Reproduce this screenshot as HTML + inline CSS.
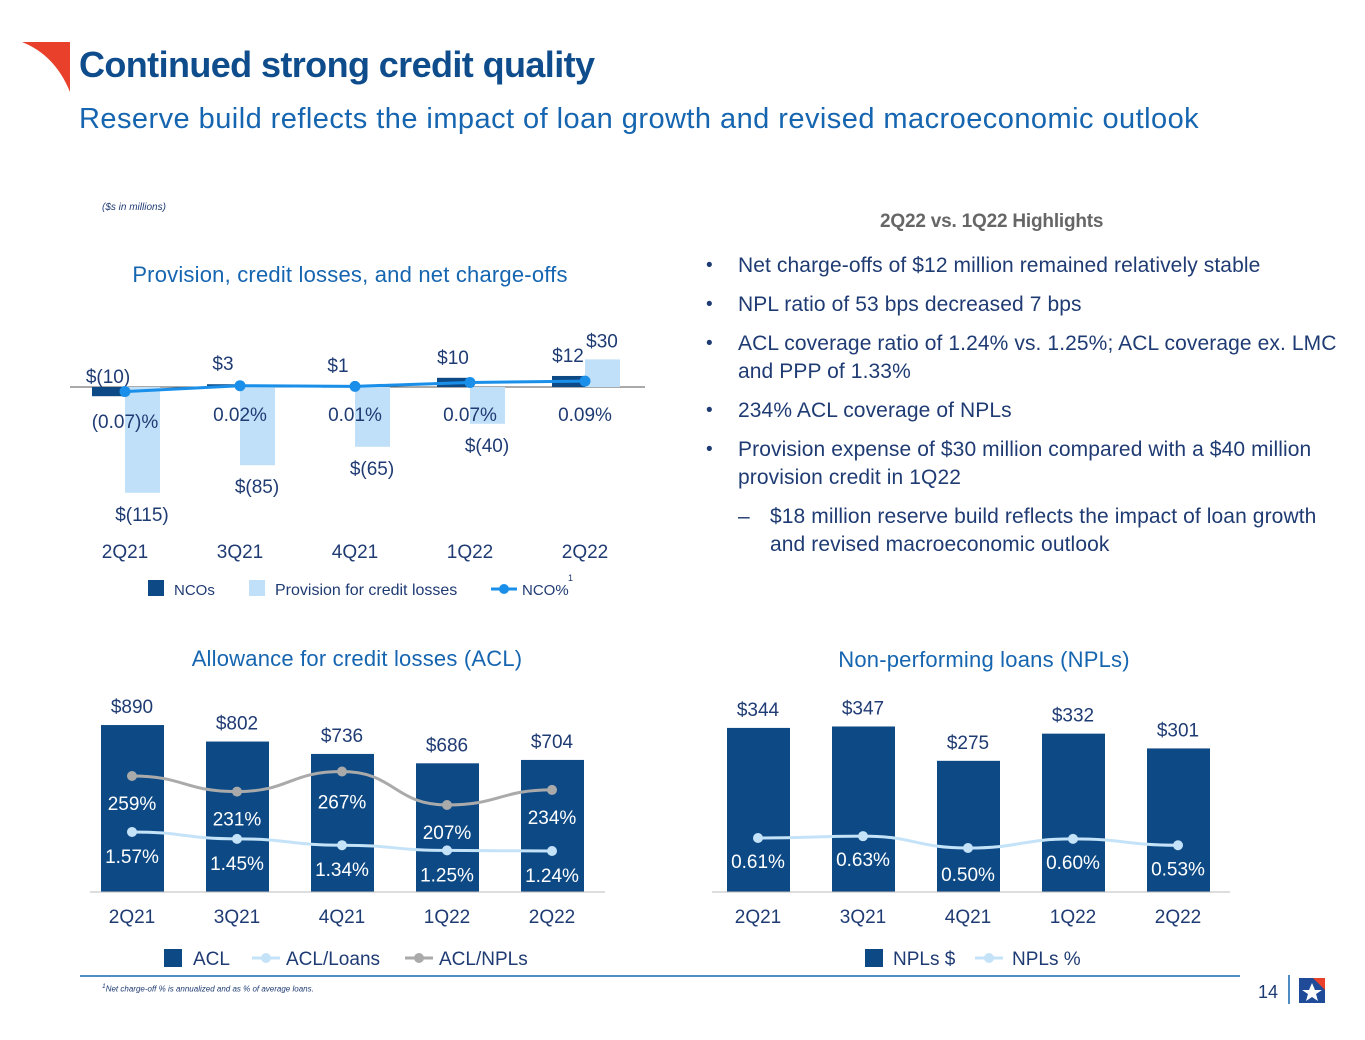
<!DOCTYPE html>
<html><head><meta charset="utf-8">
<style>
html,body{margin:0;padding:0;background:#fff;}
body{width:1365px;height:1040px;position:relative;overflow:hidden;font-family:"Liberation Sans",sans-serif;}
.abs{position:absolute;white-space:nowrap;}
.title{left:79px;top:44px;font-size:36px;font-weight:bold;color:#0f4c8c;letter-spacing:-0.6px;}
.sub{left:79px;top:103px;font-size:29px;color:#1565b0;letter-spacing:0.45px;}
.note{left:102px;top:202px;font-size:10px;font-style:italic;color:#1f3b73;}
.hl{left:880px;top:211px;font-size:19px;font-weight:bold;color:#666;letter-spacing:-0.2px;}
.bul{font-size:21px;color:#1f3b73;letter-spacing:0.1px;line-height:28px;}
.dot{font-size:19px;color:#1f3b73;line-height:28px;}
.foot{left:102px;top:983px;font-size:8px;font-style:italic;color:#1f3b73;}
svg text{font-family:"Liberation Sans",sans-serif;}
</style></head>
<body>
<svg class="abs" style="left:0;top:0" width="1365" height="1040">
  <path d="M22 42 L70 42 L70 92 Q55 55 22 42 Z" fill="#e8402b"/>
  <line x1="80" y1="976" x2="1240" y2="976" stroke="#1565b0" stroke-width="1.5"/>
  <line x1="1289" y1="975" x2="1289" y2="1004" stroke="#1565b0" stroke-width="1.5"/>
  <text x="1258" y="998" font-size="18" fill="#1f3b73">14</text>
  <g>
    <rect x="1299" y="978" width="26" height="25" fill="#1f4b99"/>
    <path d="M1313 978 L1325 978 L1325 990 Z" fill="#e8402b"/>
    <polygon points="1312,983 1315,990 1322,990 1316,994 1318,1001 1312,997 1306,1001 1308,994 1302,990 1309,990" fill="#fff"/>
  </g>
</svg>
<div class="abs title">Continued strong credit quality</div>
<div class="abs sub">Reserve build reflects the impact of loan growth and revised macroeconomic outlook</div>
<div class="abs note">($s in millions)</div>
<div class="abs hl">2Q22 vs. 1Q22 Highlights</div>
<div class="abs dot" style="left:706px;top:252px">•</div>
<div class="abs bul" style="left:738px;top:252px">Net charge-offs of $12 million remained relatively stable</div>
<div class="abs dot" style="left:706px;top:291px">•</div>
<div class="abs bul" style="left:738px;top:291px">NPL ratio of 53 bps decreased 7 bps</div>
<div class="abs dot" style="left:706px;top:330px">•</div>
<div class="abs bul" style="left:738px;top:330px">ACL coverage ratio of 1.24% vs. 1.25%; ACL coverage ex. LMC</div>
<div class="abs bul" style="left:738px;top:358px">and PPP of 1.33%</div>
<div class="abs dot" style="left:706px;top:397px">•</div>
<div class="abs bul" style="left:738px;top:397px">234% ACL coverage of NPLs</div>
<div class="abs dot" style="left:706px;top:436px">•</div>
<div class="abs bul" style="left:738px;top:436px">Provision expense of $30 million compared with a $40 million</div>
<div class="abs bul" style="left:738px;top:464px">provision credit in 1Q22</div>
<div class="abs bul" style="left:738px;top:503px">–</div>
<div class="abs bul" style="left:770px;top:503px">$18 million reserve build reflects the impact of loan growth</div>
<div class="abs bul" style="left:770px;top:531px">and revised macroeconomic outlook</div>
<div class="abs foot"><sup>1</sup>Net charge-off % is annualized and as % of average loans.</div>

<svg id="c1" class="abs" style="left:0;top:0" width="1365" height="1040"></svg>

<script>
const quarters = ["2Q21","3Q21","4Q21","1Q22","2Q22"];
const ncos = [-10,3,1,10,12];
const provision = [-115,-85,-65,-40,30];
const ncoPct = [-0.07,0.02,0.01,0.07,0.09];
const acl = [890,802,736,686,704];
const aclLoans = [1.57,1.45,1.34,1.25,1.24];
const aclNpls = [259,231,267,207,234];
const npls = [344,347,275,332,301];
const nplPct = [0.61,0.63,0.50,0.60,0.53];

const NS="http://www.w3.org/2000/svg";
const svg=document.getElementById('c1');
function el(tag,attrs,parent){const e=document.createElementNS(NS,tag);for(const k in attrs)e.setAttribute(k,attrs[k]);(parent||svg).appendChild(e);return e;}
function txt(x,y,s,size,fill,anchor,parent){const t=el('text',{x:x,y:y,'font-size':size,fill:fill,'text-anchor':anchor||'middle'},parent);t.textContent=s;return t;}
const DARK="#0d4a85", LIGHT="#bfe0f8", BLUE="#1a8fea", TXT="#1f3b73", GREY="#aaaaaa", PALE="#c5e3f8";
const fmt$=v=>v<0?"$("+(-v)+")":"$"+v;

// ---------- Chart 1 ----------
const g1=el('g',{});


const x1=i=>125+i*115;
const y1=v=>387-v*0.92;
const yp1=v=>387-v*65;
const t1=txt(350,282,"Provision, credit losses, and net charge-offs",22,"#1565b0","middle",g1);
t1.setAttribute('letter-spacing','0.2');
el('line',{x1:70,y1:387,x2:645,y2:387,stroke:"#555",'stroke-width':1},g1);
quarters.forEach((q,i)=>{
  const c=x1(i);
  const n=ncos[i], p=provision[i];
  const nb=el('rect',{x:c-33,y:Math.min(y1(n),y1(0)),width:33,height:Math.max(Math.abs(y1(n)-y1(0)),1.5),fill:DARK},g1);
  
  
  const pb=el('rect',{x:c,y:Math.min(y1(p),y1(0)),width:35,height:Math.abs(y1(p)-y1(0)),fill:LIGHT},g1);
  
  
  txt(c-17,n<0?383:y1(n)-14,fmt$(n),19,TXT,"middle",g1);
  if(p<0) txt(c+17,y1(p)+28,fmt$(p),19,TXT,"middle",g1);
  else txt(c+17,y1(p)-12,fmt$(p),19,TXT,"middle",g1);
  const pl=ncoPct[i]<0?"("+(-ncoPct[i]).toFixed(2)+")%":ncoPct[i].toFixed(2)+"%";
  txt(c,ncoPct[i]<0?428:421,pl,19,TXT,"middle",g1);
  txt(c,558,q,19,TXT,"middle",g1);
});
el('polyline',{points:ncoPct.map((v,i)=>x1(i)+","+yp1(v)).join(" "),fill:"none",stroke:BLUE,'stroke-width':3},g1);
ncoPct.forEach((v,i)=>{const d=el('circle',{cx:x1(i),cy:yp1(v),r:5.5,fill:BLUE},g1);});
el('rect',{x:148,y:580,width:16,height:16,fill:DARK},g1);txt(174,595,"NCOs",15,TXT,"start",g1);
el('rect',{x:249,y:580,width:16,height:16,fill:LIGHT},g1);txt(275,595,"Provision for credit losses",16,TXT,"start",g1);
el('line',{x1:491,y1:589,x2:517,y2:589,stroke:BLUE,'stroke-width':3},g1);el('circle',{cx:504,cy:589,r:5,fill:BLUE},g1);
txt(522,595,"NCO%",15,TXT,"start",g1);txt(568,581,"1",9,TXT,"start",g1);

// ---------- Chart 2: ACL ----------
const g2=el('g',{});


const x2=i=>132+i*105;
const y2=v=>892-v*0.1876;
const yL=v=>922.4-v*57.6;
const yN=v=>920.5-v*0.558;
const t2=txt(357,666,"Allowance for credit losses (ACL)",22,"#1565b0","middle",g2);
t2.setAttribute('letter-spacing','0.2');
acl.forEach((v,i)=>{
  const b=el('rect',{x:x2(i)-31,y:y2(v),width:63,height:892-y2(v),fill:DARK},g2);
  
  
  txt(x2(i),y2(v)-12,"$"+v,19,TXT,"middle",g2);
  txt(x2(i),923,quarters[i],19,TXT,"middle",g2);
});
el('line',{x1:90,y1:892,x2:605,y2:892,stroke:"#bbb",'stroke-width':1},g2);
function smooth(pts){let d="M"+pts[0][0]+" "+pts[0][1];for(let i=1;i<pts.length;i++){const a=pts[i-1],b=pts[i],m=(b[0]-a[0])/2;d+=" C"+(a[0]+m)+" "+a[1]+" "+(b[0]-m)+" "+b[1]+" "+b[0]+" "+b[1];}return d;}
el('path',{d:smooth(aclNpls.map((v,i)=>[x2(i),yN(v)])),fill:"none",stroke:GREY,'stroke-width':3},g2);
el('path',{d:smooth(aclLoans.map((v,i)=>[x2(i),yL(v)])),fill:"none",stroke:PALE,'stroke-width':3},g2);
aclNpls.forEach((v,i)=>{const d=el('circle',{cx:x2(i),cy:yN(v),r:5,fill:GREY},g2);
  txt(x2(i),yN(v)+(i===2?37:34),v+"%",19,"#fff","middle",g2);});
aclLoans.forEach((v,i)=>{const d=el('circle',{cx:x2(i),cy:yL(v),r:5,fill:PALE},g2);
  txt(x2(i),yL(v)+31,v.toFixed(2)+"%",19,"#fff","middle",g2);});
el('rect',{x:164,y:949,width:18,height:18,fill:DARK},g2);txt(193,965,"ACL",19,TXT,"start",g2);
el('line',{x1:252,y1:958,x2:280,y2:958,stroke:PALE,'stroke-width':3},g2);el('circle',{cx:266,cy:958,r:5,fill:PALE},g2);txt(286,965,"ACL/Loans",19,TXT,"start",g2);
el('line',{x1:405,y1:958,x2:433,y2:958,stroke:GREY,'stroke-width':3},g2);el('circle',{cx:419,cy:958,r:5,fill:GREY},g2);txt(439,965,"ACL/NPLs",19,TXT,"start",g2);

// ---------- Chart 3: NPLs ----------
const g3=el('g',{});


const x3=i=>758+i*105;
const y3=v=>892-v*0.477;
const yP=v=>893.5-v*91;
const t3=txt(984,667,"Non-performing loans (NPLs)",22,"#1565b0","middle",g3);
t3.setAttribute('letter-spacing','0.2');
npls.forEach((v,i)=>{
  const b=el('rect',{x:x3(i)-31,y:y3(v),width:63,height:892-y3(v),fill:DARK},g3);
  
  
  txt(x3(i),y3(v)-12,"$"+v,19,TXT,"middle",g3);
  txt(x3(i),923,quarters[i],19,TXT,"middle",g3);
});
el('line',{x1:712,y1:892,x2:1230,y2:892,stroke:"#bbb",'stroke-width':1},g3);
el('path',{d:smooth(nplPct.map((v,i)=>[x3(i),yP(v)])),fill:"none",stroke:PALE,'stroke-width':3},g3);
nplPct.forEach((v,i)=>{const d=el('circle',{cx:x3(i),cy:yP(v),r:5,fill:PALE},g3);
  txt(x3(i),yP(v)+(i===2?33:30),v.toFixed(2)+"%",19,"#fff","middle",g3);});
el('rect',{x:865,y:949,width:18,height:18,fill:DARK},g3);txt(893,965,"NPLs $",19,TXT,"start",g3);
el('line',{x1:975,y1:958,x2:1003,y2:958,stroke:PALE,'stroke-width':3},g3);el('circle',{cx:989,cy:958,r:5,fill:PALE},g3);txt(1012,965,"NPLs %",19,TXT,"start",g3);
</script>
</body></html>
